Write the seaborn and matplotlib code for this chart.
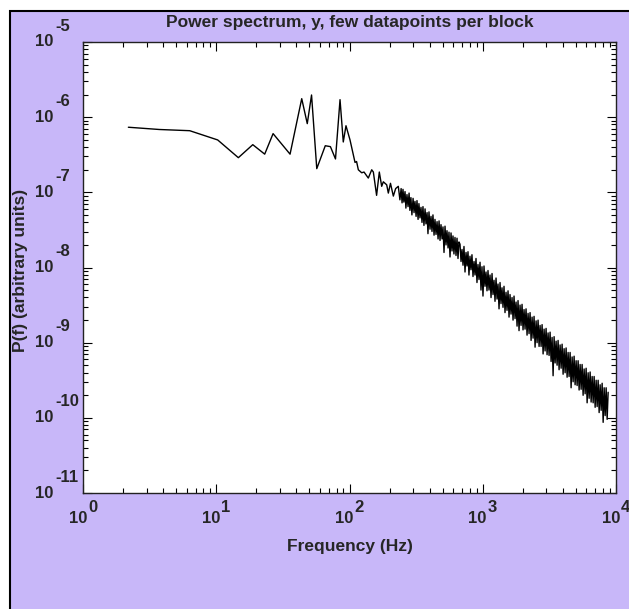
import numpy as np
import pandas as pd
import matplotlib
matplotlib.use('Agg')
import matplotlib.pyplot as plt
from matplotlib.patches import Rectangle
from matplotlib.ticker import LogLocator, NullFormatter
import seaborn as sns

# values: frequency (Hz) and log10 of P(f)
freq_hz = [
    2.19, 2.63, 3.74, 5.28, 6.32, 10.25, 14.65, 18.8, 23.1, 26.7,
    35.8, 43.8, 48.2, 51.9, 56.8, 65.8, 71.9, 78.5, 84.9, 89.8, 94.1,
    100.9, 110, 113, 116.5, 123.5, 128.5, 138.4, 146.8, 151, 159.7,
    167.4, 174.4, 179.4, 190.2, 195.6, 203, 213.3, 222, 232.4,
    # noisy band
    239, 244, 248, 252, 256, 261, 265, 270, 275, 280,
    284, 289, 294, 300, 305, 310, 316, 321, 327, 332,
    338, 344, 350, 356, 362, 369, 375, 382, 388, 395,
    402, 409, 416, 423, 431, 438, 446, 454, 462, 470,
    478, 486, 495, 503, 512, 521, 530, 539, 549, 558,
    568, 578, 588, 598, 608, 619, 630, 641, 652, 663,
    675, 687, 699, 711, 723, 736, 749, 762, 775, 788,
    802, 816, 830, 845, 860, 875, 890, 905, 921, 937,
    954, 970, 987, 1004, 1022, 1040, 1058, 1076, 1095, 1114,
    1134, 1154, 1174, 1194, 1215, 1236, 1258, 1280, 1302, 1325,
    1348, 1371, 1395, 1419, 1444, 1469, 1495, 1521, 1548, 1575,
    1602, 1630, 1659, 1688, 1717, 1747, 1778, 1809, 1840, 1872,
    1905, 1938, 1972, 2006, 2041, 2077, 2113, 2150, 2188, 2226,
    2265, 2305, 2345, 2386, 2427, 2470, 2513, 2557, 2601, 2647,
    2693, 2740, 2788, 2837, 2886, 2936, 2987, 3039, 3092, 3146,
    3201, 3257, 3314, 3372, 3431, 3491, 3551, 3613, 3676, 3740,
    3806, 3873, 3940, 4009, 4078, 4150, 4222, 4296, 4370, 4446,
    4524, 4603, 4684, 4766, 4848, 4933, 5019, 5107, 5196, 5287,
    5379, 5473, 5568, 5665, 5764, 5865, 5967, 6072, 6177, 6285,
    6394, 6506, 6620, 6736, 6853, 6973, 7094, 7218, 7343, 7472,
    7602, 7735, 7870, 8008, 8147, 8289, 8433, 8581, 8730,
]
log_power = [
    -6.134, -6.144, -6.164, -6.174, -6.180, -6.303, -6.539, -6.366, -6.492, -6.219,
    -6.492, -5.754, -6.086, -5.705, -6.685, -6.380, -6.392, -6.556, -5.767, -6.330, -6.114,
    -6.303, -6.602, -6.59, -6.70, -6.74, -6.73, -6.81, -6.70, -6.73, -7.04,
    -6.73, -6.92, -6.86, -6.90, -7.01, -6.88, -7.05, -6.95, -6.92,
    # noisy band
    -7.10, -6.95, -7.14, -6.96, -7.13, -6.99, -7.21, -7.03, -7.19, -7.01,
    -7.24, -7.07, -7.30, -7.08, -7.27, -7.12, -7.32, -7.11, -7.36, -7.15,
    -7.34, -7.20, -7.40, -7.19, -7.44, -7.22, -7.42, -7.27, -7.55, -7.26,
    -7.49, -7.32, -7.52, -7.30, -7.57, -7.36, -7.56, -7.39, -7.62, -7.38,
    -7.64, -7.43, -7.62, -7.46, -7.80, -7.45, -7.70, -7.51, -7.74, -7.53,
    -7.86, -7.54, -7.78, -7.58, -7.82, -7.60, -7.84, -7.61, -7.88, -7.66,
    -7.69, -7.92, -7.76, -7.97, -7.72, -8.06, -7.80, -7.98, -7.79, -8.10,
    -7.85, -8.03, -7.83, -8.12, -7.92, -8.10, -7.88, -8.20, -7.96, -8.16,
    -7.93, -8.30, -7.99, -8.38, -7.98, -8.25, -8.06, -8.31, -8.04, -8.30,
    -8.10, -8.40, -8.08, -8.36, -8.17, -8.45, -8.14, -8.42, -8.22, -8.55,
    -8.20, -8.48, -8.27, -8.53, -8.25, -8.60, -8.33, -8.57, -8.31, -8.66,
    -8.36, -8.62, -8.40, -8.70, -8.38, -8.68, -8.46, -8.78, -8.44, -8.84,
    -8.50, -8.77, -8.49, -8.83, -8.56, -8.82, -8.55, -8.90, -8.61, -8.88,
    -8.60, -8.97, -8.66, -8.94, -8.65, -9.06, -8.71, -9.00, -8.70, -9.05,
    -8.77, -9.05, -8.76, -9.15, -8.82, -9.11, -8.81, -9.16, -8.87, -9.17,
    -8.86, -9.25, -8.93, -9.44, -8.92, -9.27, -8.98, -9.30, -8.97, -9.36,
    -9.03, -9.34, -9.02, -9.42, -9.08, -9.40, -9.07, -9.46, -9.13, -9.45,
    -9.13, -9.60, -9.19, -9.52, -9.18, -9.56, -9.24, -9.57, -9.24, -9.63,
    -9.29, -9.62, -9.29, -9.70, -9.35, -9.68, -9.34, -9.80, -9.40, -9.74,
    -9.39, -9.79, -9.45, -9.80, -9.45, -9.86, -9.50, -9.85, -9.50, -9.93,
    -9.56, -9.90, -9.54, -10.06, -9.60, -9.97, -9.60, -10.02, -9.66,
]

x_decades = [0, 1, 2, 3, 4]
y_decades = [-11, -10, -9, -8, -7, -6, -5]

title = 'Power spectrum, y, few datapoints per block'
xlabel = 'Frequency (Hz)'
ylabel = 'P(f) (arbitrary units)'

sns.set_style('ticks')
plt.rcParams['font.family'] = ['Liberation Sans', 'DejaVu Sans']

df = pd.DataFrame({'freq': freq_hz, 'power': 10.0 ** np.array(log_power)})

W, H = 629, 609
fig = plt.figure(figsize=(W / 100, H / 100), dpi=100)
fig.patch.set_facecolor('white')

# lavender panel with black frame
fig.add_artist(Rectangle((10 / W, -0.05), 1.0, 1 - 11 / H + 0.05,
                         transform=fig.transFigure, facecolor='#c8b7f9',
                         edgecolor='black', linewidth=1.5, zorder=-1))

ax = fig.add_axes([83 / W, 1 - 493 / H, 533 / W, 451 / H])
ax.set_facecolor('white')

sns.lineplot(data=df, x='freq', y='power', ax=ax, color='black',
             linewidth=1.0, estimator=None, sort=False)

ax.set_xscale('log')
ax.set_yscale('log')
ax.set_xlim(1, 1e4)
ax.set_ylim(1e-11, 1e-5)
ax.set_xlabel('')
ax.set_ylabel('')

for axis in (ax.xaxis, ax.yaxis):
    axis.set_major_locator(LogLocator(base=10, numticks=20))
    axis.set_minor_locator(LogLocator(base=10, subs=np.arange(2, 10), numticks=50))
    axis.set_major_formatter(NullFormatter())
    axis.set_minor_formatter(NullFormatter())

ax.tick_params(which='both', direction='in', top=True, right=True,
               colors='black', width=0.8)
ax.tick_params(which='major', length=6.5)
ax.tick_params(which='minor', length=3.5)
for sp in ax.spines.values():
    sp.set_color('#222222')
    sp.set_linewidth(1.0)

# tick labels as 10 with a raised exponent
lab = dict(fontsize=12, fontweight='bold', textcoords='offset points',
           annotation_clip=False, va='center')
for d in x_decades:
    ax.annotate('10', xy=(10.0 ** d, 0), xycoords=('data', 'axes fraction'),
                xytext=(2.9, -18.7), ha='right', **lab)
    ax.annotate(str(d), xy=(10.0 ** d, 0), xycoords=('data', 'axes fraction'),
                xytext=(3.6, -10.8), ha='left', **lab)
for d in y_decades:
    ax.annotate('10', xy=(0, 10.0 ** d), xycoords=('axes fraction', 'data'),
                xytext=(-21.6, 0), ha='right', **lab)
    ax.annotate(str(d), xy=(0, 10.0 ** d), xycoords=('axes fraction', 'data'),
                xytext=(-20.2, 11.5), ha='left', **lab)

fig.text(349.5 / W, 1 - 22 / H, title, ha='center', va='center',
         fontsize=12.5, fontweight='bold')
fig.text(349.5 / W, 1 - 546 / H, xlabel, ha='center', va='center',
         fontsize=12.5, fontweight='bold')
fig.text(21 / W, 1 - 270 / H, ylabel, ha='center', va='center',
         rotation=90, fontsize=12.5, fontweight='bold')

fig.savefig('out.png', dpi=100)
plt.close(fig)
